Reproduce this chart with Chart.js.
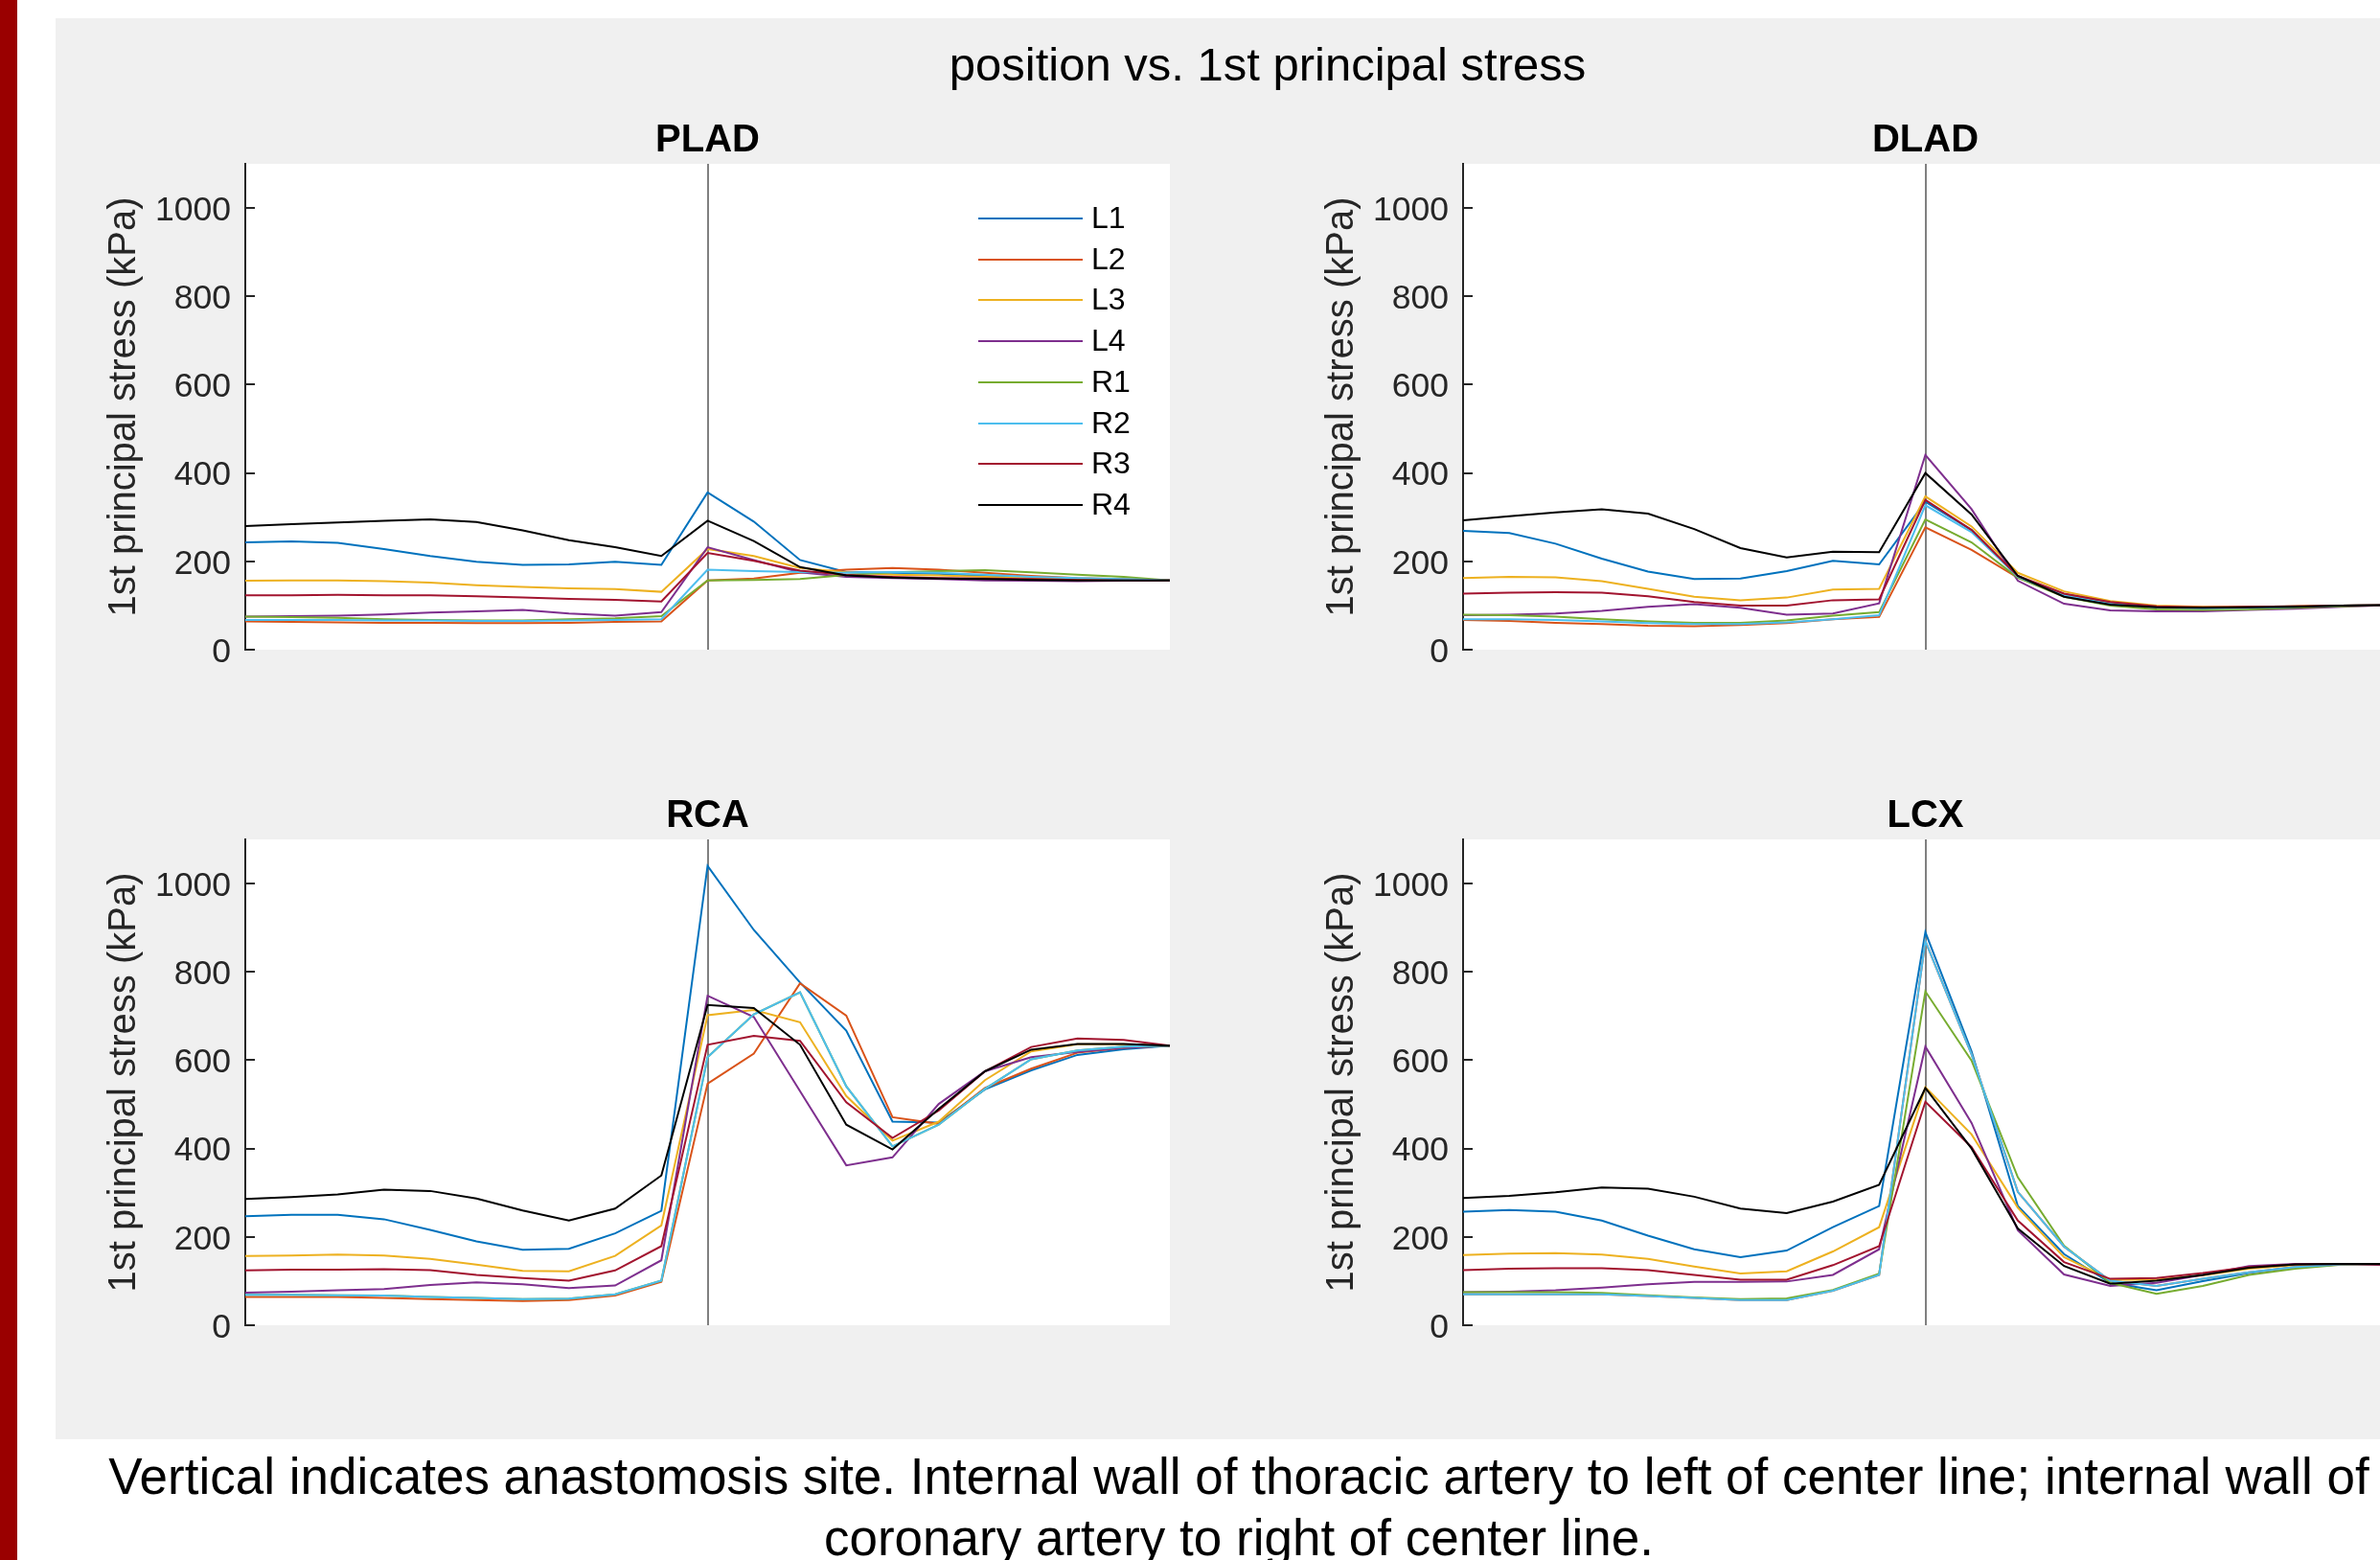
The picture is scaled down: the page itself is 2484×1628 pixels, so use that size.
<!DOCTYPE html>
<html>
<head>
<meta charset="utf-8">
<script src="https://cdn.jsdelivr.net/npm/chart.js@4.4.1/dist/chart.umd.min.js"></script>
<style>
    html, body {
        margin: 0;
        padding: 0;
        width: 2484px;
        height: 1628px;
        overflow: hidden;
        background: #ffffff;
        font-family: 'Liberation Sans', Arial, sans-serif;
    }
    #redbar { position: absolute; left: 0; top: 0; width: 18px; height: 1628px; background: #9a0000; }
    #figure { position: absolute; left: 58px; top: 19px; width: 2500px; height: 1483px; background: #f0f0f0; }
    #suptitle {
        position: absolute; left: 0; top: 37px; width: 2646px; line-height: 60px;
        text-align: center; font-size: 49px; color: #000; white-space: nowrap;
    }
    #caption {
        position: absolute; left: 0; top: 1509px; width: 2586px; line-height: 64px;
        text-align: center; font-size: 53px; color: #000; white-space: nowrap;
    }
    canvas { position: absolute; }
</style>
</head>
<body>
<div id="redbar"></div>
<div id="figure"></div>
<div id="suptitle">position vs. 1st principal stress</div>
<canvas id="plad" width="1200" height="660" style="left:60px;top:90px"></canvas>
<canvas id="dlad" width="1200" height="660" style="left:1331px;top:90px"></canvas>
<canvas id="rca" width="1200" height="660" style="left:60px;top:795px"></canvas>
<canvas id="lcx" width="1200" height="660" style="left:1331px;top:795px"></canvas>
<div id="caption">Vertical indicates anastomosis site. Internal wall of thoracic artery to left of center line; internal wall of<br>coronary artery to right of center line.</div>
<script>
const FONT = "'Liberation Sans', Arial, sans-serif";

// positions along the wall, 0 = anastomosis
const POSITIONS = [-10, -9, -8, -7, -6, -5, -4, -3, -2, -1, 0, 1, 2, 3, 4, 5, 6, 7, 8, 9, 10];
const SERIES = ['L1', 'L2', 'L3', 'L4', 'R1', 'R2', 'R3', 'R4'];
const COLORS = ['#0072bd', '#d95319', '#edb120', '#7e2f8e', '#77ac30', '#4dbeee', '#a2142f', '#000000'];
const Y_TICKS = [0, 200, 400, 600, 800, 1000];
const Y_LABEL = '1st principal stress (kPa)';

// rows follow SERIES order: L1, L2, L3, L4, R1, R2, R3, R4
const PLAD = [
    [243, 245, 242, 228, 212, 199, 192, 193, 199, 192, 356, 290, 203, 176, 174, 172, 167, 163, 160, 159, 157],
    [64, 63, 62, 61, 61, 60, 60, 61, 63, 64, 157, 161, 174, 181, 185, 181, 174, 167, 162, 160, 157],
    [156, 157, 157, 155, 152, 146, 142, 139, 137, 131, 228, 212, 185, 175, 170, 168, 165, 162, 159, 158, 157],
    [75, 76, 77, 80, 84, 87, 90, 82, 77, 85, 232, 203, 175, 165, 162, 160, 157, 156, 155, 156, 157],
    [75, 74, 72, 69, 67, 66, 66, 69, 71, 76, 157, 158, 160, 169, 175, 178, 180, 175, 170, 165, 157],
    [67, 67, 67, 66, 66, 65, 65, 66, 67, 69, 181, 178, 176, 174, 176, 174, 170, 165, 162, 160, 157],
    [123, 123, 124, 123, 123, 121, 118, 115, 113, 109, 219, 201, 179, 169, 165, 162, 161, 160, 158, 157, 157],
    [280, 284, 288, 292, 295, 289, 270, 248, 232, 212, 292, 246, 187, 168, 163, 161, 160, 158, 157, 157, 157],
];

const DLAD = [
    [269, 264, 240, 206, 177, 160, 161, 178, 201, 193, 335, 271, 165, 123, 105, 98, 96, 97, 98, 100, 101],
    [67, 65, 61, 58, 54, 53, 56, 60, 69, 74, 277, 226, 163, 126, 108, 98, 96, 96, 98, 100, 101],
    [162, 165, 164, 155, 138, 120, 112, 118, 136, 138, 347, 279, 174, 132, 110, 100, 97, 97, 98, 100, 101],
    [78, 79, 82, 88, 97, 103, 95, 79, 82, 105, 441, 318, 156, 104, 89, 87, 87, 90, 93, 97, 101],
    [79, 78, 75, 69, 64, 61, 61, 66, 77, 85, 295, 243, 163, 120, 100, 91, 90, 91, 95, 98, 101],
    [69, 69, 67, 64, 60, 58, 58, 62, 69, 78, 327, 266, 165, 123, 104, 96, 94, 95, 97, 100, 101],
    [127, 129, 130, 129, 121, 108, 100, 100, 112, 114, 339, 271, 167, 127, 108, 98, 96, 97, 98, 100, 101],
    [293, 302, 311, 318, 308, 273, 230, 209, 222, 221, 400, 306, 167, 120, 102, 96, 95, 96, 97, 100, 101],
];

const RCA = [
    [247, 250, 250, 240, 216, 190, 171, 173, 208, 259, 1040, 895, 776, 667, 461, 459, 534, 577, 612, 625, 633],
    [64, 64, 64, 62, 59, 57, 55, 57, 67, 98, 547, 615, 774, 701, 471, 456, 537, 581, 617, 628, 633],
    [157, 158, 160, 158, 150, 137, 123, 122, 157, 226, 702, 714, 686, 519, 418, 461, 555, 620, 636, 636, 633],
    [74, 76, 79, 82, 91, 97, 93, 84, 90, 147, 746, 698, 530, 362, 380, 501, 575, 607, 619, 628, 633],
    [69, 69, 68, 67, 64, 62, 59, 60, 70, 101, 607, 704, 754, 541, 405, 454, 535, 602, 622, 631, 633],
    [69, 69, 68, 67, 64, 62, 59, 60, 70, 101, 607, 704, 754, 541, 405, 454, 535, 602, 622, 631, 633],
    [124, 126, 126, 127, 125, 114, 107, 101, 124, 179, 635, 655, 644, 505, 424, 486, 575, 630, 649, 646, 633],
    [286, 290, 296, 307, 304, 287, 260, 237, 264, 339, 725, 718, 635, 454, 398, 490, 575, 624, 637, 637, 633],
];

const LCX = [
    [257, 261, 257, 237, 203, 172, 154, 169, 222, 270, 890, 620, 270, 161, 96, 79, 100, 118, 132, 139, 139],
    [70, 70, 70, 70, 66, 62, 57, 57, 78, 114, 870, 613, 302, 178, 101, 89, 105, 120, 132, 138, 139],
    [159, 162, 163, 160, 150, 133, 117, 122, 167, 222, 539, 432, 266, 154, 103, 103, 113, 128, 136, 139, 139],
    [75, 76, 79, 85, 93, 98, 98, 99, 114, 172, 631, 458, 215, 115, 89, 96, 114, 134, 139, 139, 136],
    [75, 75, 75, 73, 68, 63, 59, 61, 80, 117, 756, 599, 335, 180, 96, 71, 89, 114, 128, 137, 139],
    [70, 70, 70, 70, 66, 62, 57, 57, 78, 114, 870, 613, 302, 178, 101, 89, 105, 120, 132, 138, 139],
    [125, 128, 129, 129, 125, 114, 103, 103, 136, 179, 506, 403, 237, 143, 105, 107, 118, 132, 138, 139, 137],
    [288, 293, 301, 312, 309, 291, 264, 254, 280, 318, 537, 400, 219, 134, 94, 101, 114, 130, 138, 139, 139],
];

Chart.defaults.font.family = FONT;

// white axes box, anastomosis line and inward ticks like the original figure
const panelPlugin = {
    id: 'panel',
    beforeDraw(chart) {
        const { ctx, chartArea: a } = chart;
        ctx.save();
        ctx.fillStyle = '#ffffff';
        ctx.fillRect(a.left, a.top, a.right - a.left, a.bottom - a.top);
        ctx.restore();
    },
    beforeDatasetsDraw(chart) {
        const { ctx, chartArea: a, scales } = chart;
        const px = Math.round(scales.x.getPixelForValue(POSITIONS.indexOf(0)));
        ctx.save();
        ctx.strokeStyle = '#808080';
        ctx.lineWidth = 2;
        ctx.beginPath();
        ctx.moveTo(px, a.top);
        ctx.lineTo(px, a.bottom);
        ctx.stroke();
        ctx.restore();
    },
    afterDraw(chart) {
        const { ctx, chartArea: a, scales } = chart;
        ctx.save();
        ctx.strokeStyle = '#262626';
        ctx.lineWidth = 2;
        Y_TICKS.forEach((v) => {
            const py = Math.round(scales.y.getPixelForValue(v));
            ctx.beginPath();
            ctx.moveTo(a.left, py);
            ctx.lineTo(a.left + 10, py);
            ctx.stroke();
        });
        ctx.restore();
    },
};

const legendPlugin = {
    id: 'insideLegend',
    afterDatasetsDraw(chart) {
        const { ctx, chartArea: a } = chart;
        ctx.save();
        ctx.font = `32px ${FONT}`;
        ctx.textBaseline = 'middle';
        ctx.textAlign = 'left';
        SERIES.forEach((name, i) => {
            const y = Math.round(a.top + 57 + i * 42.7);
            ctx.strokeStyle = COLORS[i];
            ctx.lineWidth = 2;
            ctx.beginPath();
            ctx.moveTo(a.left + 765, y);
            ctx.lineTo(a.left + 874, y);
            ctx.stroke();
            ctx.fillStyle = '#000000';
            ctx.fillText(name, a.left + 883, y + 1);
        });
        ctx.restore();
    },
};

function renderPanel(id, title, values, withLegend) {
    const canvas = document.getElementById(id);

    return new Chart(canvas, {
        type: 'line',
        data: {
            labels: POSITIONS,
            datasets: SERIES.map((name, i) => ({
                label: name,
                data: values[i],
                borderColor: COLORS[i],
                borderWidth: 2,
                pointRadius: 0,
                tension: 0,
                fill: false,
                order: SERIES.length - i,
            })),
        },
        options: {
            responsive: false,
            maintainAspectRatio: false,
            animation: false,
            devicePixelRatio: 1,
            layout: {
                padding: { top: 33, right: 39, bottom: 72, left: 0 },
            },
            plugins: {
                legend: { display: false },
                tooltip: { enabled: false },
                title: {
                    display: true,
                    text: title,
                    fullSize: false,
                    color: '#000000',
                    font: { size: 40, weight: 'bold' },
                    padding: { top: 0, bottom: 0 },
                },
            },
            scales: {
                x: { display: false },
                y: {
                    min: 0,
                    max: 1100,
                    afterBuildTicks: (axis) => {
                        axis.ticks = Y_TICKS.map((v) => ({ value: v }));
                    },
                    afterFit: (axis) => {
                        axis.width = 196;
                    },
                    grid: { display: false, drawTicks: false },
                    border: { display: true, color: '#262626', width: 2 },
                    ticks: {
                        color: '#262626',
                        padding: 15,
                        labelOffset: 3,
                        font: { size: 35.5 },
                        callback: (value) => String(value),
                    },
                    title: {
                        display: true,
                        text: Y_LABEL,
                        color: '#262626',
                        font: { size: 40 },
                        padding: { top: 46, bottom: 0 },
                    },
                },
            },
        },
        plugins: withLegend ? [panelPlugin, legendPlugin] : [panelPlugin],
    });
}

renderPanel('plad', 'PLAD', PLAD, true);
renderPanel('dlad', 'DLAD', DLAD, false);
renderPanel('rca', 'RCA', RCA, false);
renderPanel('lcx', 'LCX', LCX, false);
</script>
</body>
</html>
